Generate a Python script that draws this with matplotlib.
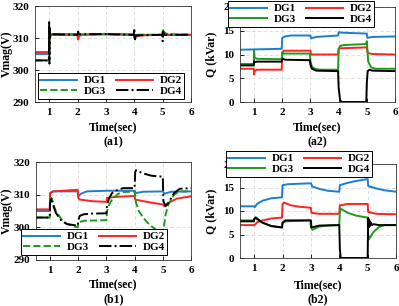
import matplotlib
matplotlib.use("Agg")
import matplotlib.pyplot as plt

plt.rcParams['font.family'] = ['Liberation Serif', 'DejaVu Serif']
plt.rcParams['font.weight'] = 'bold'
plt.rcParams['axes.labelweight'] = 'bold'

C1, C2, C3, C4 = '#1a7fd0', '#ff2222', '#1e9a1e', '#000000'
labels = ['DG1', 'DG2', 'DG3', 'DG4']

# ---------- (a1) Vmag ----------
a1_t1 = [0.5, 0.99, 1.01, 1.05, 2.0, 3.0, 4.0, 5.0, 6.0]
a1_v1 = [305.0, 305.0, 311.5, 311.0, 311.0, 311.2, 311.0, 311.0, 311.0]
a1_t2 = [0.5, 0.99, 1.01, 1.05, 1.98, 2.02, 2.05, 2.15, 3.0, 3.98, 4.02, 4.2, 5.0, 5.05, 5.2, 6.0]
a1_v2 = [305.6, 305.6, 311.5, 311.2, 311.2, 309.5, 310.5, 311.1, 311.2, 311.1, 310.3, 310.8, 311.0, 311.5, 311.0, 311.0]
a1_t3 = [0.5, 0.99, 1.0, 1.02, 1.05, 2.0, 3.0, 3.98, 4.0, 4.03, 4.1, 4.98, 5.0, 5.03, 5.1, 5.2, 6.0]
a1_v3 = [303.0, 303.0, 308.0, 311.5, 311.0, 311.0, 311.2, 311.0, 310.0, 310.5, 311.0, 311.0, 312.8, 312.0, 311.5, 311.2, 311.0]
a1_t4 = [0.5, 0.99, 1.0, 1.01, 1.02, 1.03, 1.06, 2.0, 2.02, 2.05, 3.0, 3.02, 3.05, 3.98, 4.0, 4.02, 4.05, 4.98, 5.0, 5.02, 5.05, 6.0]
a1_v4 = [303.0, 303.0, 315.0, 302.0, 313.0, 310.0, 311.2, 311.0, 312.0, 311.2, 311.2, 311.7, 311.2, 311.0, 312.5, 309.3, 310.8, 311.0, 309.0, 312.0, 311.0, 311.0]

# ---------- (a2) Q ----------
a2_t1 = [0.5, 1.98, 2.0, 2.1, 2.3, 3.0, 3.02, 3.2, 3.98, 4.0, 4.1, 5.0, 5.02, 5.2, 6.0]
a2_v1 = [11.0, 11.2, 13.5, 13.8, 14.0, 14.0, 13.4, 13.7, 14.0, 14.7, 14.6, 14.4, 13.5, 13.7, 13.8]
a2_t2 = [0.5, 0.99, 1.0, 1.02, 1.1, 1.98, 2.0, 2.05, 3.0, 3.02, 3.98, 4.0, 4.05, 5.0, 5.02, 5.05, 5.2, 6.0]
a2_v2 = [7.0, 7.0, 5.8, 6.5, 6.8, 6.8, 10.3, 10.8, 10.8, 10.0, 10.0, 11.2, 11.3, 11.5, 10.6, 10.3, 10.1, 10.0]
a2_t3 = [0.5, 0.99, 1.0, 1.02, 1.1, 1.98, 2.0, 2.05, 2.98, 3.0, 3.05, 3.15, 3.3, 3.98, 4.0, 4.05, 4.2, 4.98, 5.0, 5.05, 5.15, 5.3, 6.0]
a2_v3 = [8.0, 8.0, 10.8, 9.3, 9.1, 9.0, 10.5, 10.2, 10.2, 8.5, 7.5, 7.0, 6.8, 6.8, 11.2, 11.8, 12.0, 12.2, 12.8, 8.5, 7.3, 7.0, 7.0]
a2_t4 = [0.5, 0.99, 1.0, 1.02, 1.1, 1.98, 2.0, 2.1, 2.98, 3.0, 3.05, 3.2, 3.98, 4.0, 4.05, 4.1, 4.98, 5.0, 5.03, 5.1, 5.2, 6.0]
a2_v4 = [7.7, 7.7, 8.6, 8.4, 8.5, 8.5, 9.1, 8.9, 8.8, 7.8, 7.0, 6.6, 6.5, 3.0, 0.5, 0.0, 0.0, 4.0, 6.5, 6.8, 6.6, 6.5]

# ---------- (b1) Vmag ----------
b1_t1 = [0.5, 0.99, 1.0, 1.1, 1.98, 2.0, 2.1, 2.3, 3.0, 4.0, 4.05, 4.3, 5.0, 5.05, 5.3, 6.0]
b1_v1 = [305.0, 305.0, 310.5, 311.0, 311.0, 309.5, 310.3, 311.0, 311.2, 311.2, 310.5, 310.9, 311.0, 310.3, 310.9, 311.0]
b1_t2 = [0.5, 0.99, 1.0, 1.1, 1.98, 2.0, 2.05, 2.5, 3.0, 3.02, 3.3, 4.0, 4.02, 4.5, 5.0, 5.05, 5.2, 5.5, 6.0]
b1_v2 = [305.5, 305.5, 310.5, 311.0, 311.5, 309.0, 308.5, 308.0, 307.8, 309.0, 309.3, 309.6, 308.5, 307.7, 307.0, 306.5, 307.5, 308.8, 309.5]
b1_t3 = [0.5, 0.99, 1.0, 1.05, 1.1, 1.2, 1.4, 1.6, 1.98, 2.0, 2.2, 3.0, 3.02, 3.1, 3.2, 3.4, 3.6, 4.0, 4.05, 4.15, 4.3, 4.5, 4.75, 5.0, 5.02, 5.1, 5.2, 5.4, 5.6, 6.0]
b1_v3 = [303.0, 303.0, 307.0, 309.0, 307.5, 305.0, 302.5, 301.0, 300.0, 301.5, 302.0, 302.2, 305.0, 307.0, 308.5, 310.2, 310.8, 311.0, 307.5, 305.0, 303.0, 301.0, 299.3, 298.2, 299.0, 304.0, 307.0, 310.0, 311.0, 311.0]
b1_t4 = [0.5, 0.99, 1.0, 1.05, 1.1, 1.2, 1.4, 1.6, 1.98, 2.0, 2.05, 2.2, 2.5, 3.0, 3.02, 3.1, 3.2, 3.4, 3.6, 4.0, 4.02, 4.05, 4.3, 4.6, 5.0, 5.02, 5.1, 5.2, 5.4, 5.6, 6.0]
b1_v4 = [303.0, 303.0, 307.5, 309.0, 307.0, 304.5, 302.0, 301.0, 300.5, 302.0, 303.5, 304.0, 304.2, 304.3, 307.0, 309.0, 310.5, 311.5, 312.0, 312.0, 317.0, 317.5, 316.5, 315.8, 315.5, 308.0, 306.5, 307.5, 310.5, 311.8, 312.0]

# ---------- (b2) Q ----------
b2_t1 = [0.5, 0.99, 1.02, 1.1, 1.3, 1.6, 1.98, 2.0, 2.2, 3.0, 3.05, 3.3, 3.6, 4.0, 4.02, 4.3, 4.6, 5.0, 5.02, 5.3, 5.6, 6.0]
b2_v1 = [11.0, 11.0, 10.8, 11.5, 12.2, 12.7, 12.9, 15.5, 15.7, 15.9, 15.2, 14.7, 14.3, 14.1, 15.5, 16.0, 16.4, 16.8, 15.3, 14.8, 14.4, 14.1]
b2_t2 = [0.5, 0.99, 1.02, 1.1, 1.3, 1.6, 1.98, 2.0, 2.05, 2.3, 2.6, 3.0, 3.02, 3.3, 4.0, 4.02, 4.3, 5.0, 5.02, 5.3, 6.0]
b2_v2 = [7.0, 7.0, 7.0, 7.6, 8.0, 8.4, 8.6, 11.5, 11.8, 11.2, 10.9, 10.7, 9.6, 9.4, 9.4, 11.2, 11.5, 11.5, 9.8, 9.4, 9.3]
b2_t3 = [0.5, 0.99, 1.0, 1.05, 1.3, 1.6, 1.98, 2.0, 2.1, 2.98, 3.0, 3.05, 3.3, 3.6, 4.0, 4.02, 4.05, 4.3, 4.6, 5.0, 5.02, 5.05, 5.1, 5.2, 5.4, 5.6, 6.0]
b2_v3 = [8.0, 8.0, 8.3, 8.7, 7.5, 6.8, 6.5, 7.5, 7.8, 8.0, 6.5, 6.0, 6.7, 6.9, 7.0, 10.0, 10.5, 9.6, 9.0, 8.6, 5.0, 4.0, 4.5, 5.5, 6.6, 7.0, 7.0]
b2_t4 = [0.5, 0.99, 1.0, 1.05, 1.3, 1.6, 1.98, 2.0, 2.1, 3.0, 3.02, 3.3, 4.0, 4.02, 4.05, 5.0, 5.02, 5.04, 5.06, 5.08, 5.1, 5.15, 5.2, 5.4, 6.0]
b2_v4 = [7.8, 7.8, 8.3, 8.5, 7.5, 6.8, 6.5, 7.5, 8.0, 8.0, 6.5, 6.9, 7.0, 2.0, 0.0, 0.0, 8.5, 6.5, 8.0, 6.8, 7.6, 7.0, 7.2, 7.0, 7.0]

x_ticks = [1, 2, 3, 4, 5, 6]
v_ticks = [290, 300, 310, 320]
q_ticks = [0, 5, 10, 15, 20]

W, H = 399, 306
fig = plt.figure(figsize=(W / 100, H / 100), dpi=100)


def px_axes(l, t, r, b):
    return fig.add_axes([l / W, (H - b) / H, (r - l) / W, (b - t) / H])


def style(ax, box, ylim, yticks, ylabel, tag, ylab_x, y_time, y_tag):
    l, t, r, b = box
    ax.set_xlim(0.5, 6)
    ax.set_ylim(*ylim)
    ax.set_xticks(x_ticks)
    ax.set_yticks(yticks)
    ax.tick_params(direction='in', length=3, width=0.6, labelsize=8, pad=4)
    ax.tick_params(axis='x', pad=4)
    for lab in ax.get_xticklabels() + ax.get_yticklabels():
        lab.set_fontweight('bold')
    ax.grid(True, linestyle=(0, (4, 3)), color='#d8d8d8', linewidth=0.6)
    for s in ax.spines.values():
        s.set_linewidth(0.6)
        s.set_color('#333333')
    fig.text(ylab_x / W, 1 - (t + b) / 2 / H, ylabel, rotation=90, ha='center', va='center',
             fontsize=8.5, fontweight='bold')
    cx = (l + r) / 2 / W
    fig.text(cx, 1 - y_time / H, 'Time(sec)', ha='center', va='center',
             fontsize=8.5, fontweight='bold')
    fig.text(cx, 1 - y_tag / H, tag, ha='center', va='center',
             fontsize=8.5, fontweight='bold')


def legend(ax, bbox):
    l, t, r, b = bbox
    h, lb = ax.get_legend_handles_labels()
    order = [0, 2, 1, 3]
    leg = ax.legend([h[i] for i in order], [lb[i] for i in order], ncol=2, loc='center',
                    frameon=True, fancybox=False,
                    edgecolor='black', framealpha=1, handlelength=3.3, handletextpad=0.6,
                    columnspacing=0.9, borderpad=0.25, labelspacing=0.1,
                    bbox_to_anchor=((l + r) / 2 / W, 1 - (t + b) / 2 / H),
                    bbox_transform=fig.transFigure, prop={'weight': 'bold', 'size': 8})
    leg.get_frame().set_linewidth(0.7)
    leg.set_zorder(10)


lw = 1.4
# (a1)
box = (35, 6, 191, 102)
ax = px_axes(*box)
ax.plot(a1_t1, a1_v1, color=C1, lw=lw, label=labels[0])
ax.plot(a1_t2, a1_v2, color=C2, lw=lw, label=labels[1])
ax.plot(a1_t3, a1_v3, color=C3, lw=lw, ls='--', label=labels[2])
ax.plot(a1_t4, a1_v4, color=C4, lw=lw, ls='-.', label=labels[3])
style(ax, box, (290, 320), v_ticks, 'Vmag(V)', '(a1)', 7, 127, 142)
legend(ax, (55, 73, 167, 99))

# (a2)
box = (240, 7, 395, 102)
ax = px_axes(*box)
ax.plot(a2_t1, a2_v1, color=C1, lw=lw, label=labels[0])
ax.plot(a2_t2, a2_v2, color=C2, lw=lw, label=labels[1])
ax.plot(a2_t3, a2_v3, color=C3, lw=lw, label=labels[2])
ax.plot(a2_t4, a2_v4, color=C4, lw=lw, label=labels[3])
style(ax, box, (0, 20), q_ticks, 'Q (kVar)', '(a2)', 211, 127, 142)
legend(ax, (245, 0, 357, 28))

# (b1)
box = (36, 162, 191, 260)
ax = px_axes(*box)
ax.plot(b1_t1, b1_v1, color=C1, lw=lw, label=labels[0])
ax.plot(b1_t2, b1_v2, color=C2, lw=lw, label=labels[1])
ax.plot(b1_t3, b1_v3, color=C3, lw=lw, ls='--', label=labels[2])
ax.plot(b1_t4, b1_v4, color=C4, lw=lw, ls='-.', label=labels[3])
style(ax, box, (290, 320), v_ticks, 'Vmag(V)', '(b1)', 7, 284, 299)
legend(ax, (36, 227, 152, 257))

# (b2)
box = (240, 164, 396, 258)
ax = px_axes(*box)
ax.plot(b2_t1, b2_v1, color=C1, lw=lw, label=labels[0])
ax.plot(b2_t2, b2_v2, color=C2, lw=lw, label=labels[1])
ax.plot(b2_t3, b2_v3, color=C3, lw=lw, label=labels[2])
ax.plot(b2_t4, b2_v4, color=C4, lw=lw, label=labels[3])
style(ax, box, (0, 20), q_ticks, 'Q (kVar)', '(b2)', 211, 285, 299)
legend(ax, (243, 152, 355, 176))

fig.savefig('out.png', dpi=100)
